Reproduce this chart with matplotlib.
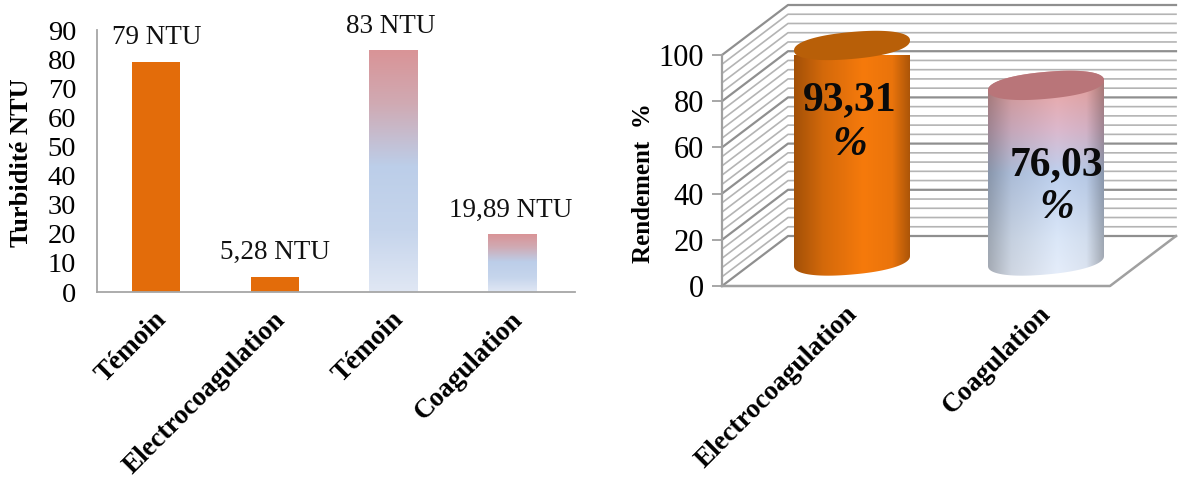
import numpy as np
import matplotlib
matplotlib.use('Agg')
import matplotlib.pyplot as plt
from matplotlib.patches import Polygon

plt.rcParams['font.family'] = ['Liberation Serif', 'DejaVu Serif']

W, H = 1178, 484

# left chart
turb_labels = ['Témoin', 'Electrocoagulation', 'Témoin', 'Coagulation']
turb_values = [79, 5.28, 83, 19.89]
turb_text = ['79 NTU', '5,28 NTU', '83 NTU', '19,89 NTU']
turb_kind = ['orange', 'orange', 'gradient', 'gradient']

# right chart
rend_labels = ['Electrocoagulation', 'Coagulation']
rend_values = [93.31, 76.03]
rend_text = ['93,31', '76,03']
rend_kind = ['orange', 'gradient']

ORANGE = '#e36c0a'
GRID = '#b4b4b4'
GRID_MAJOR = '#8f8f8f'


def axes_px(fig, x0, y0, x1, y1):
    """Axes from pixel box, y measured from the top"""
    return fig.add_axes([x0 / W, 1 - y1 / H, (x1 - x0) / W, (y1 - y0) / H])


def hex_rgb(c):
    return np.array(matplotlib.colors.to_rgb(c))


def bar_gradient():
    stops = [0.0, 0.22, 0.48, 0.75, 1.0]
    cols = ['#d99497', '#d0aab3', '#bccee9', '#c6d5ec', '#e0e7f4']
    rgb = np.array([hex_rgb(c) for c in cols])
    t = np.linspace(0, 1, 128)
    return np.stack([np.interp(t, stops, rgb[:, i]) for i in range(3)], axis=1)[:, None, :]


def cyl_shading(kind):
    # columns go dark at the edges, rows carry the vertical colour
    u = np.linspace(-1, 1, 200)
    t = np.linspace(0, 1, 200)
    if kind == 'orange':
        side = np.interp(u, [-1, -0.5, 0.2, 0.7, 1], [0.66, 0.86, 1, 0.95, 0.7])
        base = np.tile(hex_rgb('#f67a0c'), (200, 1))
    else:
        side = np.interp(u, [-1, -0.6, 0.2, 0.7, 1], [0.72, 0.9, 1, 0.96, 0.72])
        stops = [0, 0.12, 0.3, 0.5, 0.8, 1]
        cols = ['#eca4a4', '#e9a8a8', '#dcb8cc', '#bdd0ee', '#dbe7f8', '#e8effb']
        rgb = np.array([hex_rgb(c) for c in cols])
        base = np.stack([np.interp(t, stops, rgb[:, i]) for i in range(3)], axis=1)
    img = base[:, None, :] * side[None, :, None]
    return np.clip(img, 0, 1)


def loop(t, b, k, p=0.9):
    # slightly squared, tilted ellipse
    c, s = np.cos(t), np.sin(t)
    ex = np.sign(c) * np.abs(c) ** p
    ey = np.sign(s) * np.abs(s) ** p
    return ex, b * ey + k * ex


fig = plt.figure(figsize=(W / 100, H / 100), dpi=100, facecolor='white')

# ---- left bar chart ----
ax = axes_px(fig, 97, 30, 575, 292)
grad = bar_gradient()
label_shift = [0, 0, -0.02, -0.01]
for i, (v, kind) in enumerate(zip(turb_values, turb_kind)):
    c = i + 0.5
    if kind == 'orange':
        ax.bar(c, v, width=0.405, color=ORANGE)
    else:
        ax.imshow(grad, extent=[c - 0.205, c + 0.205, 0, v], aspect='auto', zorder=2,
                  interpolation='bilinear')
    ax.text(c + label_shift[i], v + 4, turb_text[i], ha='center', va='bottom', fontsize=19.5,
            color='#111111', clip_on=False)
ax.set_xlim(0, 4.03)
ax.set_ylim(0, 90)
ax.set_yticks(range(0, 100, 10))
ax.set_xticks([i + 0.48 for i in range(4)])
ax.set_xticklabels(turb_labels, rotation=45, ha='right', rotation_mode='anchor',
                   fontsize=19.5, fontweight='bold')
ax.tick_params(axis='x', length=0, pad=11)
ax.tick_params(axis='y', length=0, pad=15, labelsize=20.5)
ax.set_ylabel('Turbidité NTU', fontsize=19, fontweight='bold')
ax.yaxis.set_label_coords(-0.134, 0.492)
for s in ['top', 'right']:
    ax.spines[s].set_visible(False)
for s in ['left', 'bottom']:
    ax.spines[s].set_color('#a6a6a6')
    ax.spines[s].set_linewidth(1.3)

# ---- right pseudo 3D chart ----
# x is in category units, y in % along the front of the box
ax2 = axes_px(fig, 722, 55, 1110, 286)
ax2.patch.set_alpha(0)
DX = 66 / 194.0   # depth shift, category units
DY = 50 / 2.31    # depth shift, % units


def proj(x, y, d):
    return x + d * DX, y + d * DY


for v in range(0, 101, 4):
    major = v % 20 == 0
    col = GRID_MAJOR if major else GRID
    lw = 1.6 if major else 1.2
    xs, ys = zip(proj(0, v, 0), proj(0, v, 1), proj(2, v, 1))
    ax2.plot(xs, ys, color=col, lw=lw, clip_on=False, zorder=1)

fx, fy = zip(proj(0, 0, 0), proj(2, 0, 0), proj(2, 0, 1))
ax2.plot(fx, fy, color='#a0a0a0', lw=1.8, clip_on=False, zorder=1)

A = 58 / 194.0    # cylinder half width
B = 13.5 / 2.31   # cap half height
K = 5 / 2.31      # tilt of the caps
num_drop = [23.6, 34.5]
pct_drop = [43, 53]
text_shift = [-0.01, 0.055]

theta = np.linspace(0, 2 * np.pi, 240)
for i, (v, kind) in enumerate(zip(rend_values, rend_kind)):
    cx, y0 = proj(i + 0.5, 0, 0.5)
    _, y1 = proj(i + 0.5, v, 0.5)
    ex, ey = loop(theta, B, K)
    # body outline: lower half of base + upper half of top
    lx, ly = loop(np.linspace(np.pi, 2 * np.pi, 80), B, K)
    ux, uy = loop(np.linspace(0, np.pi, 80), B, K)
    px = np.concatenate([cx + A * lx, cx + A * ux])
    py = np.concatenate([y0 + ly, y1 + uy])
    body = Polygon(np.column_stack([px, py]), closed=True, transform=ax2.transData,
                   fc='none', ec='none', clip_on=False)
    ax2.add_patch(body)
    im = ax2.imshow(cyl_shading(kind), extent=[cx - A, cx + A, y0 - B - 4, y1 + B + 4],
                    aspect='auto', zorder=3, interpolation='bilinear')
    im.set_clip_path(body)
    cap = '#b85f08' if kind == 'orange' else '#b97579'
    ax2.fill(cx + A * ex, y1 + ey, color=cap, zorder=4, lw=0, clip_on=False)
    ax2.text(cx + text_shift[i], y1 - num_drop[i], rend_text[i], ha='center', va='center',
             fontsize=30, fontweight='bold', zorder=5, color='#0a0a0a')
    ax2.text(cx + text_shift[i], y1 - pct_drop[i], '%', ha='center', va='center',
             fontsize=30, fontweight='bold', fontstyle='italic', zorder=5, color='#0a0a0a')

ax2.set_xlim(0, 2)
ax2.set_ylim(0, 100)
ax2.set_yticks(range(0, 101, 20))
ax2.set_xticks([0.63, 1.63])
ax2.set_xticklabels(rend_labels, rotation=45, ha='right', rotation_mode='anchor',
                    fontsize=19.5, fontweight='bold')
ax2.tick_params(axis='x', length=0, pad=11)
ax2.tick_params(axis='y', length=7, width=1.3, color='#a0a0a0', pad=6, labelsize=22)
ax2.set_ylabel('Rendement  %', fontsize=18, fontweight='bold')
ax2.yaxis.set_label_coords(-0.173, 0.446)
for s in ['top', 'right', 'bottom']:
    ax2.spines[s].set_visible(False)
ax2.spines['left'].set_color('#a0a0a0')
ax2.spines['left'].set_linewidth(1.6)

fig.savefig('out.png', dpi=100)
